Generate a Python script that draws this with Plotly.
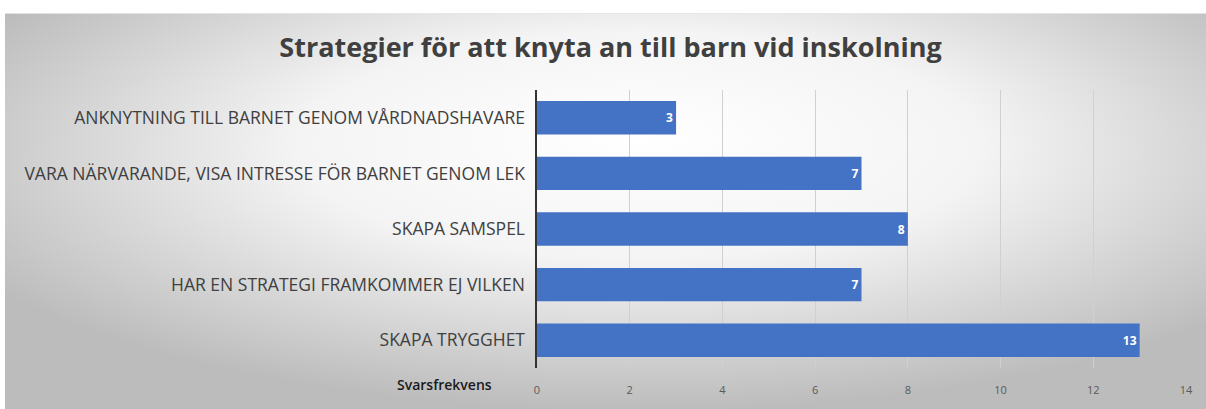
import base64
import plotly.graph_objects as go

title = "Strategier för att knyta an till barn vid inskolning"
categories = [
    "ANKNYTNING TILL BARNET GENOM VÅRDNADSHAVARE",
    "VARA NÄRVARANDE, VISA INTRESSE FÖR BARNET GENOM LEK",
    "SKAPA SAMSPEL",
    "HAR EN STRATEGI FRAMKOMMER EJ VILKEN",
    "SKAPA TRYGGHET",
]
values = [3, 7, 8, 7, 13]
x_ticks = [0, 2, 4, 6, 8, 10, 12, 14]
axis_title = "Svarsfrekvens"

W, H = 1206, 409
L, R, T, B = 537, 20, 90, 36
pw, ph = W - L - R, H - T - B

svg = (
    "<svg xmlns='http://www.w3.org/2000/svg' width='1200' height='400' preserveAspectRatio='none'>"
    "<defs><radialGradient id='g' cx='52%' cy='35%' r='62%' fx='52%' fy='30%'>"
    "<stop offset='0' stop-color='#ffffff'/>"
    "<stop offset='0.45' stop-color='#f4f4f4'/>"
    "<stop offset='1' stop-color='#bcbcbc'/>"
    "</radialGradient></defs>"
    "<rect x='0' y='0' width='1200' height='400' fill='url(#g)'/></svg>"
)
src = "data:image/svg+xml;base64," + base64.b64encode(svg.encode()).decode()

bg_left, bg_top = 5, 12
bg_right, bg_bottom = W + 20, H + 20
img_x = (bg_left - L) / pw
img_y = (H - B - bg_top) / ph
img_sx = (bg_right - bg_left) / pw
img_sy = (bg_bottom - bg_top) / ph

font = "Open Sans"

fig = go.Figure(
    go.Bar(
        x=values,
        y=categories,
        orientation="h",
        marker=dict(color="#4472C4", line=dict(width=0)),
        width=0.6,
        text=[str(v) for v in values],
        textposition="inside",
        insidetextanchor="end",
        textfont=dict(family=font, size=12, color="white", weight="bold"),
        cliponaxis=False,
        hoverinfo="skip",
    )
)

fig.update_layout(
    width=W,
    height=H,
    margin=dict(l=L, r=R, t=T, b=B),
    paper_bgcolor="#c4c4c4",
    plot_bgcolor="rgba(0,0,0,0)",
    showlegend=False,
    title=dict(
        text="<b>" + title + "</b>",
        x=(274 + 947) / 2 / W, xref="container", xanchor="center",
        y=1 - 48 / H, yref="container", yanchor="middle",
        font=dict(family=font, size=27, color="#404040"),
    ),
    images=[dict(
        source=src, xref="paper", yref="paper",
        x=img_x, y=img_y, sizex=img_sx, sizey=img_sy,
        xanchor="left", yanchor="top", sizing="stretch", layer="below",
    )],
    shapes=[
        dict(type="rect", xref="paper", yref="paper", layer="below",
             x0=-L / pw - 0.05, x1=(W - L) / pw + 0.05,
             y0=(H - B - bg_top) / ph, y1=(H - B) / ph + 0.05,
             fillcolor="white", line=dict(width=0)),
        dict(type="rect", xref="paper", yref="paper", layer="below",
             x0=-L / pw - 0.05, x1=(bg_left - L) / pw,
             y0=-B / ph - 0.05, y1=(H - B) / ph + 0.05,
             fillcolor="white", line=dict(width=0)),
    ],
    xaxis=dict(
        range=[0, 14],
        tickvals=x_ticks,
        ticktext=[str(t) for t in x_ticks],
        showgrid=True,
        gridcolor="#d0d0d0",
        gridwidth=1,
        zeroline=False,
        showline=False,
        ticks="outside",
        ticklen=12,
        tickcolor="rgba(0,0,0,0)",
        tickfont=dict(family=font, size=11, color="#595959"),
        fixedrange=True,
    ),
    yaxis=dict(
        categoryorder="array",
        categoryarray=categories,
        autorange="reversed",
        showline=True,
        linecolor="#333333",
        linewidth=2.5,
        showgrid=False,
        zeroline=False,
        ticks="outside",
        ticklen=6,
        tickcolor="rgba(0,0,0,0)",
        tickfont=dict(family=font, size=17.5, color="#404040"),
        fixedrange=True,
    ),
    annotations=[dict(
        text=axis_title,
        xref="paper", yref="paper",
        x=(444 - L) / pw, y=(H - B - 390) / ph,
        xanchor="center", yanchor="middle",
        showarrow=False,
        font=dict(family=font, size=14, color="#1a1a1a", weight=600),
    )],
)

fig.write_html(
    "out.html",
    config={"displayModeBar": False, "staticPlot": True},
    post_script="document.body.style.margin='0';document.body.style.overflow='hidden';",
)
